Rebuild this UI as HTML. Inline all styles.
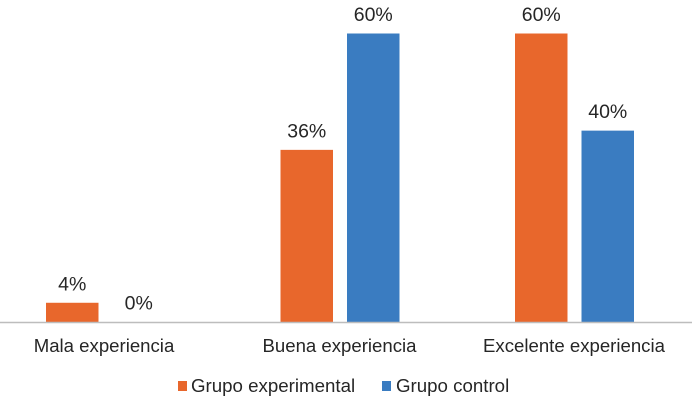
<!DOCTYPE html>
<html lang="es">
<head>
<meta charset="utf-8">
<title>Experiencia por grupo</title>
<style>
html,body{margin:0;padding:0;background:#fff;}
svg{display:block;}
text{font-family:"Liberation Sans",Arial,sans-serif;fill:#262626;}
</style>
</head>
<body>
<svg id="chart" width="696" height="404" viewBox="0 0 696 404" xmlns="http://www.w3.org/2000/svg"></svg>
<script>
const categories = ['Mala experiencia', 'Buena experiencia', 'Excelente experiencia'];
const experimentalValues = [4, 35.8, 60];
const controlValues = [0, 60, 39.8];
const seriesNames = ['Grupo experimental', 'Grupo control'];
const seriesColors = ['#e8672c', '#3a7cc1'];

const svg = document.getElementById('chart');
const NS = 'http://www.w3.org/2000/svg';
const baseY = 322;
const pxPerUnit = 288.5 / 60;
const barW = 52.5;
const yScale = v => baseY - v * pxPerUnit;
const groupCenter = i => 105.5 + i * 234.5;

function make(tag, attrs, txt) {
  const el = document.createElementNS(NS, tag);
  for (const k in attrs) el.setAttribute(k, attrs[k]);
  if (txt !== undefined) el.textContent = txt;
  svg.appendChild(el);
  return el;
}

[experimentalValues, controlValues].forEach((vals, s) => {
  vals.forEach((v, i) => {
    const x = groupCenter(i) + (s === 0 ? -59.5 : 7);
    const bar = make('rect', {x: x, y: yScale(v), width: barW, height: baseY - yScale(v), fill: seriesColors[s]});
    
    
    const label = make('text', {x: x + barW / 2, y: yScale(v) - 12.5, 'text-anchor': 'middle', 'font-size': 19.5}, Math.round(v) + '%');
    
    
  });
});

const axis = make('line', {x1: 0, x2: 692, y1: baseY + 0.5, y2: baseY + 0.5, stroke: '#bdbdbd', 'stroke-width': 1.5});



categories.forEach((c, i) => {
  const t = make('text', {x: groupCenter(i) - 0.5 - (i === 0 ? 1 : 0), y: 352, 'text-anchor': 'middle', 'font-size': 18.6}, c);
  
  
});

const legendX = [178, 382];
const legendTextX = [191, 396];
seriesNames.forEach((n, s) => {
  const sw = make('rect', {x: legendX[s], y: 381, width: 9, height: 10, fill: seriesColors[s]});
  
  
  const t = make('text', {x: legendTextX[s], y: 392, 'font-size': 18.7}, n);
  
  
});
</script>
</body>
</html>
